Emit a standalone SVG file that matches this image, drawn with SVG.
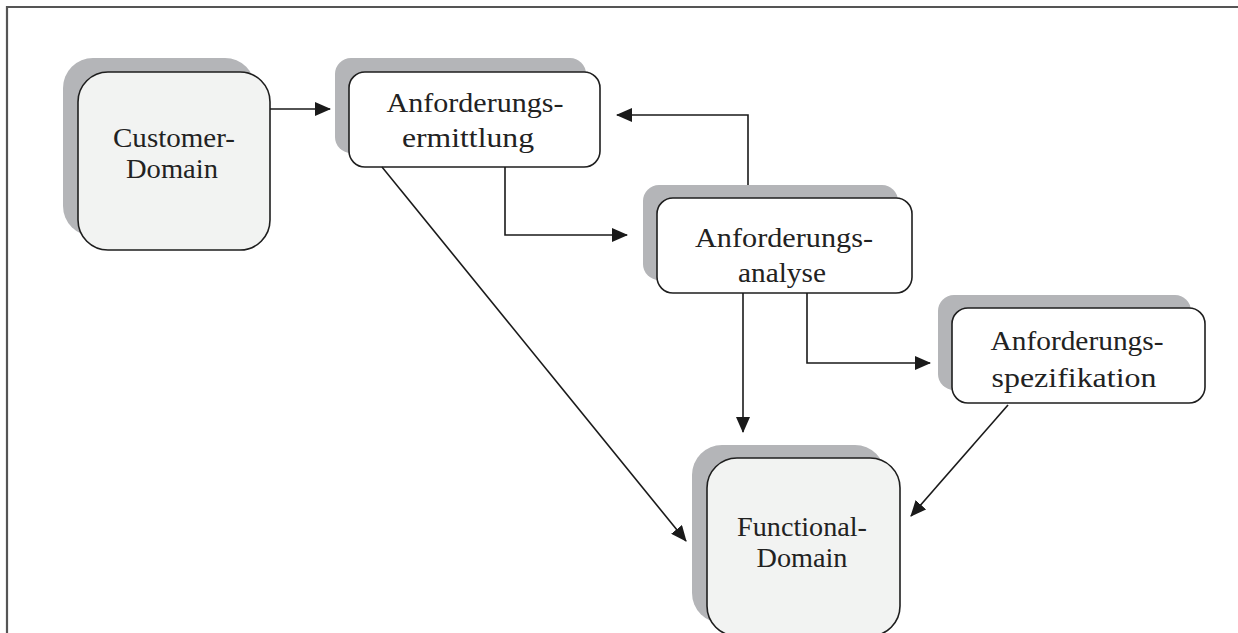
<svg xmlns="http://www.w3.org/2000/svg" width="1238" height="633" viewBox="0 0 1238 633">
  <style>
    .frame { stroke: #555; stroke-width: 2.2; fill: none; }
    .shadow { fill: #b4b5b8; }
    .box { stroke: #1e1e1e; stroke-width: 1.6; }
    .domain { fill: #f2f3f2; }
    .step { fill: #ffffff; }
    text { font-family: 'Liberation Serif', 'Times New Roman', Times, serif; font-size: 28px; fill: #222; text-anchor: middle; }
    .conn { stroke: #1a1a1a; stroke-width: 1.6; fill: none; marker-end: url(#arrow); }
  </style>
  <defs>
    <marker id="arrow" markerWidth="16" markerHeight="14" refX="15" refY="7" orient="auto" markerUnits="userSpaceOnUse">
      <path d="M0,0 L16,7 L0,14 Z" fill="#1a1a1a"/>
    </marker>
  </defs>

  <rect width="1238" height="633" fill="#ffffff"/>
  <path class="frame" d="M7,633 V7 H1238"/>

  <g id="customer-domain">
    <rect class="shadow" x="63" y="58" width="192" height="178" rx="30"/>
    <rect class="box domain" x="78" y="72" width="192" height="178" rx="30"/>
    <text x="174" y="147" textLength="122" lengthAdjust="spacingAndGlyphs">Customer-</text>
    <text x="172" y="178" textLength="92" lengthAdjust="spacingAndGlyphs">Domain</text>
  </g>

  <g id="anforderungsermittlung">
    <rect class="shadow" x="335" y="58" width="251" height="95" rx="16"/>
    <rect class="box step" x="349" y="72" width="251" height="95" rx="16"/>
    <text x="475" y="112" textLength="177" lengthAdjust="spacingAndGlyphs">Anforderungs-</text>
    <text x="468" y="147" textLength="132" lengthAdjust="spacingAndGlyphs">ermittlung</text>
  </g>

  <g id="anforderungsanalyse">
    <rect class="shadow" x="643" y="185" width="255" height="95" rx="16"/>
    <rect class="box step" x="657" y="198" width="255" height="95" rx="16"/>
    <text x="784" y="247" textLength="178" lengthAdjust="spacingAndGlyphs">Anforderungs-</text>
    <text x="782" y="282" textLength="88" lengthAdjust="spacingAndGlyphs">analyse</text>
  </g>

  <g id="anforderungsspezifikation">
    <rect class="shadow" x="938" y="295" width="253" height="95" rx="16"/>
    <rect class="box step" x="952" y="308" width="253" height="95" rx="16"/>
    <text x="1077" y="350" textLength="173" lengthAdjust="spacingAndGlyphs">Anforderungs-</text>
    <text x="1074" y="387" textLength="165" lengthAdjust="spacingAndGlyphs">spezifikation</text>
  </g>

  <g id="functional-domain">
    <rect class="shadow" x="692" y="445" width="193" height="178" rx="30"/>
    <rect class="box domain" x="707" y="458" width="193" height="178" rx="30"/>
    <text x="802" y="536" textLength="130" lengthAdjust="spacingAndGlyphs">Functional-</text>
    <text x="802" y="567" textLength="91" lengthAdjust="spacingAndGlyphs">Domain</text>
  </g>

  <g id="connectors">
    <path class="conn" d="M270,109 H330"/>
    <path class="conn" d="M748,185 V115 H617"/>
    <path class="conn" d="M505,167 V235 H627"/>
    <path class="conn" d="M382,167 L686,541"/>
    <path class="conn" d="M743,293 V432"/>
    <path class="conn" d="M807,293 V363 H930"/>
    <path class="conn" d="M1008,405 L911,516"/>
  </g>
</svg>
